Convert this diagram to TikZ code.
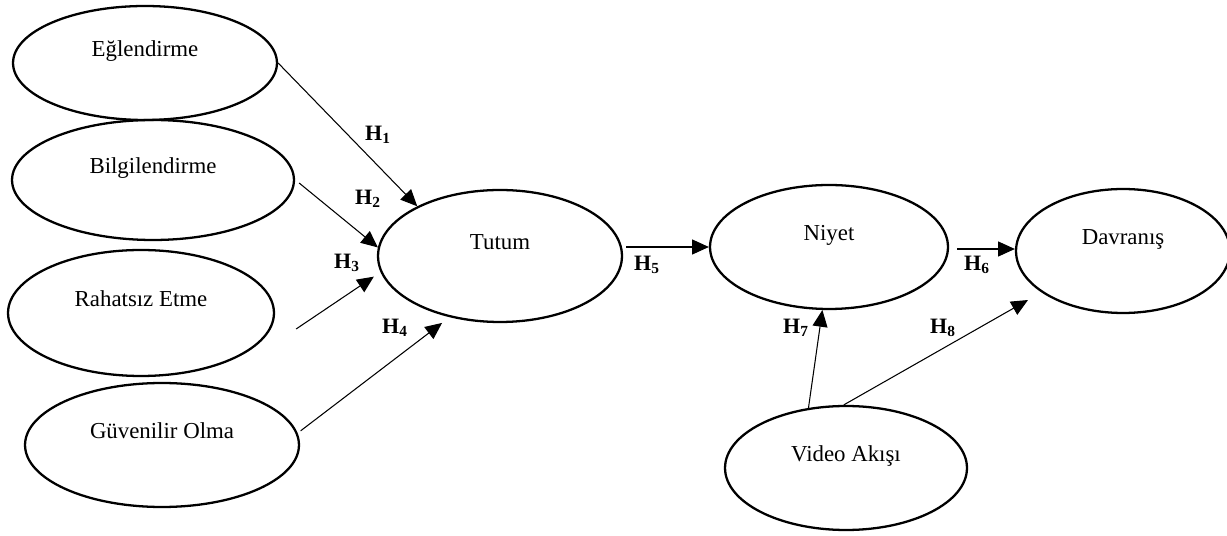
\documentclass[tikz,border=0pt]{standalone}
\usepackage{fontspec}
\setmainfont{Liberation Serif}
\usetikzlibrary{shapes.geometric}
\usetikzlibrary{arrows.meta}
\usetikzlibrary{calc}

\tikzset{
  construct/.style={ellipse, draw, line width=1.3pt, inner sep=0pt,
    text height=0.3cm, text depth=0.56cm, font=\fontsize{13}{15}\selectfont},
  hyp/.style={inner sep=0pt, font=\fontsize{12.5}{14}\selectfont\bfseries},
  link/.style={-{Triangle[length=9.5pt,width=8.5pt]}, line width=0.6pt}
}

\begin{document}
\begin{tikzpicture}[x=0.02cm,y=-0.02cm]
  \useasboundingbox (0,0) rectangle (1227,536);
  % antecedents
  \node[construct, minimum width=5.28cm, minimum height=2.28cm] (eglen) at (145,63) {Eğlendirme};
  \node[construct, minimum width=5.64cm, minimum height=2.4cm] (bilgi) at (153,180) {Bilgilendirme};
  \node[construct, minimum width=5.32cm, minimum height=2.52cm] (rahatsiz) at (141,313) {Rahatsız Etme};
  \node[construct, minimum width=5.48cm, minimum height=2.48cm] (guven) at (162,445) {Güvenilir Olma};
  % attitude, intention, behaviour
  \node[construct, minimum width=4.88cm, minimum height=2.64cm] (tutum) at (500,256) {Tutum};
  \node[construct, minimum width=4.76cm, minimum height=2.48cm] (niyet) at (829,247) {Niyet};
  \node[construct, minimum width=4.28cm, minimum height=2.48cm] (davranis) at (1123,251) {Davranış};
  \node[construct, minimum width=4.84cm, minimum height=2.48cm] (video) at (846,468) {Video Akışı};

  \draw[link] (eglen.east) -- (tutum.149);
  \draw[link] ([shift={(4,3)}]bilgi.east) -- (tutum.176);
  \draw[link] ([shift={(21,16)}]rahatsiz.east) -- ([shift={(-9,0)}]tutum.190);
  \draw[link] ([shift={(4,0)}]guven.6) -- ([shift={(1,8)}]tutum.225);
  \draw[link] ($(tutum.east |- niyet.west)+(3,0)$) -- (niyet.west);
  \draw[link] ($(niyet.east |- davranis.west)+(8,-2)$) -- ($(davranis.west)+(0,-2)$);
  \draw[link] (video.122) -- (niyet.264);
  \draw[link] (video.92) -- ($(davranis)+(-95,49)$);

  \node[hyp] (h1) at (378,135) {H\textsubscript{1}};
  \node[hyp] (h2) at (368,199) {H\textsubscript{2}};
  \node[hyp] (h3) at (347,263) {H\textsubscript{3}};
  \node[hyp] (h4) at (395,328) {H\textsubscript{4}};
  \node[hyp] (h5) at (647,265) {H\textsubscript{5}};
  \node[hyp] (h6) at (977,265) {H\textsubscript{6}};
  \node[hyp] (h7) at (796,328) {H\textsubscript{7}};
  \node[hyp] (h8) at (943,328) {H\textsubscript{8}};
\end{tikzpicture}
\end{document}
